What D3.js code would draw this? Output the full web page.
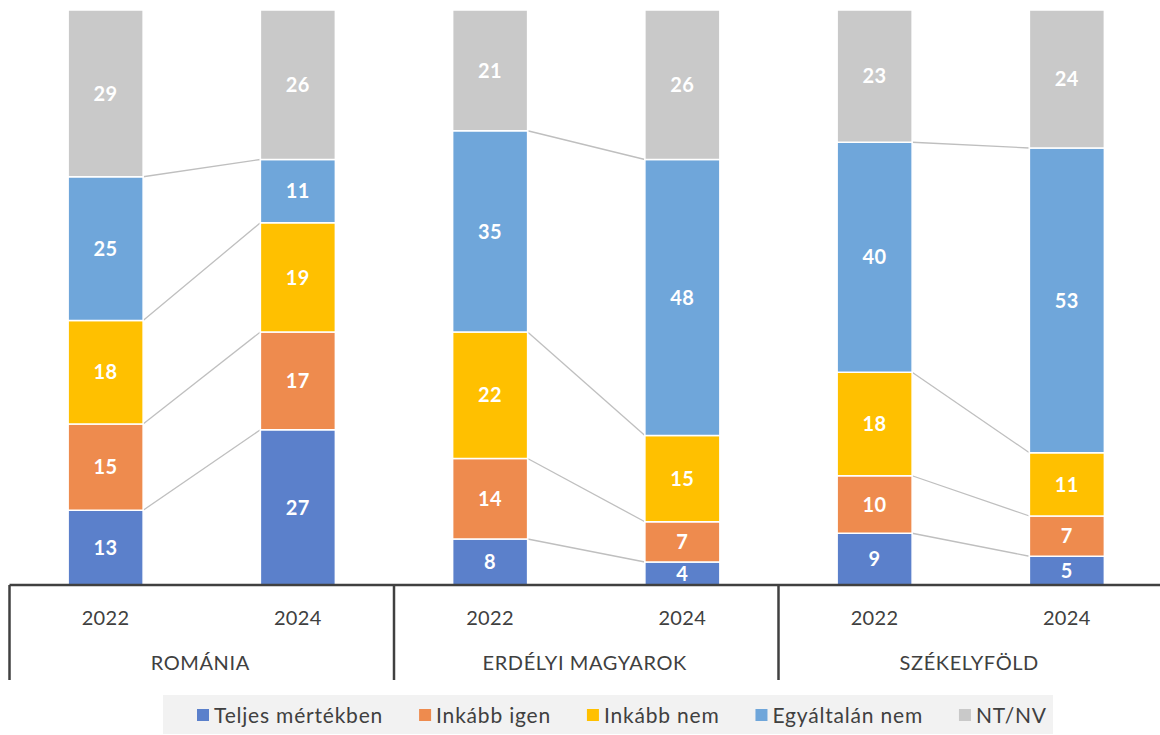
<!DOCTYPE html>
<html>
<head>
<meta charset="utf-8">
<script src="https://d3js.org/d3.v7.min.js"></script>
<style>
  body { margin: 0; background: #fff; }
  svg text { font-family: "Lato", "Open Sans", sans-serif; }
</style>
</head>
<body>
<script>
// groups and years on the x axis
var groups = ["ROMÁNIA", "ERDÉLYI MAGYAROK", "SZÉKELYFÖLD"];
var years = ["2022", "2024"];
var seriesNames = ["Teljes mértékben", "Inkább igen", "Inkább nem", "Egyáltalán nem", "NT/NV"];
var colors = ["#5b80cb", "#ee8b4e", "#ffc000", "#6fa6da", "#c9c9c9"];

// values per series, order: Románia 2022, 2024, Erdélyi 2022, 2024, Székelyföld 2022, 2024
var teljes      = [13, 27, 8, 4, 9, 5];
var inkabbIgen  = [15, 17, 14, 7, 10, 7];
var inkabbNem   = [18, 19, 22, 15, 18, 11];
var egyaltalan  = [25, 11, 35, 48, 40, 53];
var ntnv        = [29, 26, 21, 26, 23, 24];

var seriesValues = [teljes, inkabbIgen, inkabbNem, egyaltalan, ntnv];

var W = 1160, H = 735;
var svg = d3.select("body").append("svg").attr("width", W).attr("height", H);

var x0 = d3.scaleBand().domain(groups).range([9.5, 1163]).padding(0);
var x1 = d3.scaleBand().domain(years).range([0, x0.bandwidth()])
  .paddingInner(0.61).paddingOuter(0.305);
var y = d3.scaleLinear().domain([0, 100]).range([585, 10]);

// build rows
var rows = [];
groups.forEach(function(g, gi) {
  years.forEach(function(yr, yi) {
    var idx = gi * 2 + yi;
    var row = { group: g, year: yr };
    seriesNames.forEach(function(s, si) { row[s] = seriesValues[si][idx]; });
    rows.push(row);
  });
});
var stacked = d3.stack().keys(seriesNames)(rows);

function barX(d) { return x0(d.data.group) + x1(d.data.year); }

// series lines between the two years of a group
var lineG = svg.append("g");
stacked.slice(0, seriesNames.length - 1).forEach(function(layer) {
  groups.forEach(function(g, gi) {
    var a = layer[gi * 2], b = layer[gi * 2 + 1];
    lineG.append("line")
      .attr("x1", barX(a) + x1.bandwidth()).attr("y1", y(a[1]))
      .attr("x2", barX(b)).attr("y2", y(b[1]))
      .attr("stroke", "#bfbfbf").attr("stroke-width", 1.3);
  });
});

var layers = svg.append("g").selectAll("g").data(stacked).enter().append("g")
  .attr("fill", function(d, i) { return colors[i]; });

layers.selectAll("rect").data(function(d) { return d; }).enter().append("rect")
  .attr("x", barX)
  .attr("y", function(d) { return y(d[1]); })
  .attr("width", x1.bandwidth())
  .attr("height", function(d) { return y(d[0]) - y(d[1]); })
  .attr("stroke", "#fff").attr("stroke-width", 1.5);

layers.selectAll("text").data(function(d) { return d; }).enter().append("text")
  .attr("x", function(d) { return barX(d) + x1.bandwidth() / 2; })
  .attr("y", function(d) { return (y(d[0]) + y(d[1])) / 2; })
  .attr("dy", "0.36em")
  .attr("text-anchor", "middle")
  .attr("fill", "#fff")
  .attr("font-weight", "bold")
  .attr("font-size", 20)
  .attr("letter-spacing", 0.5)
  .text(function(d) { return d[1] - d[0]; });

// axis
var axis = svg.append("g").attr("stroke", "#404040").attr("stroke-width", 2.5);
axis.append("line").attr("x1", 9.5).attr("x2", W).attr("y1", 585).attr("y2", 585);
groups.forEach(function(g) {
  axis.append("line").attr("x1", x0(g)).attr("x2", x0(g)).attr("y1", 585).attr("y2", 680);
});

groups.forEach(function(g) {
  years.forEach(function(yr) {
    svg.append("text")
      .attr("x", x0(g) + x1(yr) + x1.bandwidth() / 2)
      .attr("y", 618).attr("dy", "0.36em")
      .attr("text-anchor", "middle").attr("fill", "#404040").attr("font-size", 20)
      .attr("letter-spacing", 0.4)
      .text(yr);
  });
  svg.append("text")
    .attr("x", x0(g) + x0.bandwidth() / 2 - 1.5)
    .attr("y", 663).attr("dy", "0.36em")
    .attr("text-anchor", "middle").attr("fill", "#404040").attr("font-size", 20)
    .attr("letter-spacing", 0.6)
    .text(g);
});

// legend
svg.append("rect").attr("x", 163).attr("y", 695).attr("width", 890).attr("height", 39)
  .attr("fill", "#f2f2f2");
var lx = 197;
seriesNames.forEach(function(s, i) {
  svg.append("rect").attr("x", lx).attr("y", 709).attr("width", 12).attr("height", 12)
    .attr("fill", colors[i]);
  var t = svg.append("text").attr("x", lx + 17).attr("y", 715).attr("dy", "0.36em")
    .attr("fill", "#404040").attr("font-size", 21).attr("letter-spacing", 0.8).text(s);
  lx += 17 + t.node().getComputedTextLength() + 36;
});
</script>
</body>
</html>
